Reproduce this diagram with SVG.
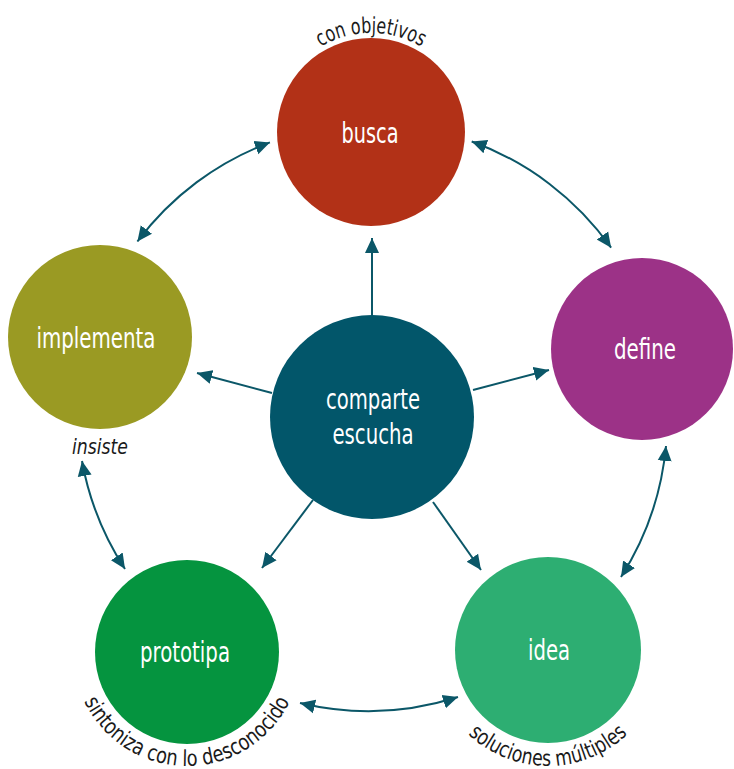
<svg xmlns="http://www.w3.org/2000/svg" width="734" height="769" viewBox="0 0 734 769">
  <style>
    .lbl { font-family: "DejaVu Sans", "Liberation Sans", sans-serif; font-stretch: condensed; fill: #ffffff; font-size: 28px; text-anchor: middle; }
    .cap { font-family: "DejaVu Sans", "Liberation Sans", sans-serif; font-stretch: condensed; fill: #1a1a1a; font-size: 22px; }
    .con { fill: none; stroke: #0B5768; stroke-width: 2; }
  </style>
  <defs>
    <marker id="ah" markerUnits="userSpaceOnUse" markerWidth="16" markerHeight="16" viewBox="0 0 16 16" refX="15" refY="8" orient="auto-start-reverse">
      <path d="M0,1 L15,8 L0,15 Z" fill="#0B5768"/>
    </marker>
    <path id="pBusca" d="M 272,132 A 99,99 0 0 1 470,132"/>
    <path id="pProto" d="M 73,652 A 114,114 0 0 0 301,652"/>
    <path id="pIdea" d="M 432,650 A 116,116 0 0 0 664,650"/>
  </defs>

  <g id="connectors">
    <path class="con" d="M372,315 L372,238" marker-end="url(#ah)"/>
    <path class="con" d="M272,393 L197,373" marker-end="url(#ah)"/>
    <path class="con" d="M473,390 L549,370" marker-end="url(#ah)"/>
    <path class="con" d="M313,500 L262,568" marker-end="url(#ah)"/>
    <path class="con" d="M433,502 L481,570" marker-end="url(#ah)"/>
    <path class="con" d="M137.4,241.5 A293,293 0 0 1 269.9,142.4" marker-start="url(#ah)" marker-end="url(#ah)"/>
    <path class="con" d="M471.7,141.5 A293,293 0 0 1 611.1,247.7" marker-start="url(#ah)" marker-end="url(#ah)"/>
    <path class="con" d="M666,446 A295,295 0 0 1 621,577" marker-start="url(#ah)" marker-end="url(#ah)"/>
    <path class="con" d="M458,697 A295,295 0 0 1 300,703" marker-start="url(#ah)" marker-end="url(#ah)"/>
    <path class="con" d="M125,569 A293,293 0 0 1 82,461" marker-start="url(#ah)" marker-end="url(#ah)"/>
  </g>

  <g id="busca">
    <circle cx="371" cy="132" r="94" fill="#B23117"/>
    <text class="lbl" x="370" y="143" textLength="57" lengthAdjust="spacingAndGlyphs">busca</text>
    <text class="cap"><textPath href="#pBusca" startOffset="50%" text-anchor="middle" textLength="106" lengthAdjust="spacingAndGlyphs">con objetivos</textPath></text>
  </g>

  <g id="define">
    <circle cx="642" cy="349" r="91" fill="#9C3287"/>
    <text class="lbl" x="645" y="359" textLength="62" lengthAdjust="spacingAndGlyphs">define</text>
  </g>

  <g id="idea">
    <circle cx="548" cy="650" r="93" fill="#2DAE72"/>
    <text class="lbl" x="549" y="660" textLength="42" lengthAdjust="spacingAndGlyphs">idea</text>
    <text class="cap"><textPath href="#pIdea" startOffset="50%" text-anchor="middle" textLength="176" lengthAdjust="spacingAndGlyphs">soluciones múltiples</textPath></text>
  </g>

  <g id="prototipa">
    <circle cx="187" cy="652" r="92" fill="#05943F"/>
    <text class="lbl" x="185" y="662" textLength="90" lengthAdjust="spacingAndGlyphs">prototipa</text>
    <text class="cap"><textPath href="#pProto" startOffset="50%" text-anchor="middle" textLength="256" lengthAdjust="spacingAndGlyphs">sintoniza con lo desconocido</textPath></text>
  </g>

  <g id="implementa">
    <circle cx="100" cy="337" r="92" fill="#9A9A23"/>
    <text class="lbl" x="96" y="348" textLength="119" lengthAdjust="spacingAndGlyphs">implementa</text>
    <text class="cap" x="100" y="454" text-anchor="middle" font-style="italic" textLength="56" lengthAdjust="spacingAndGlyphs">insiste</text>
  </g>

  <g id="comparte">
    <circle cx="372" cy="417" r="102" fill="#02566A"/>
    <text class="lbl" x="373" y="409" textLength="94" lengthAdjust="spacingAndGlyphs">comparte</text>
    <text class="lbl" x="373" y="444" textLength="81" lengthAdjust="spacingAndGlyphs">escucha</text>
  </g>
</svg>
